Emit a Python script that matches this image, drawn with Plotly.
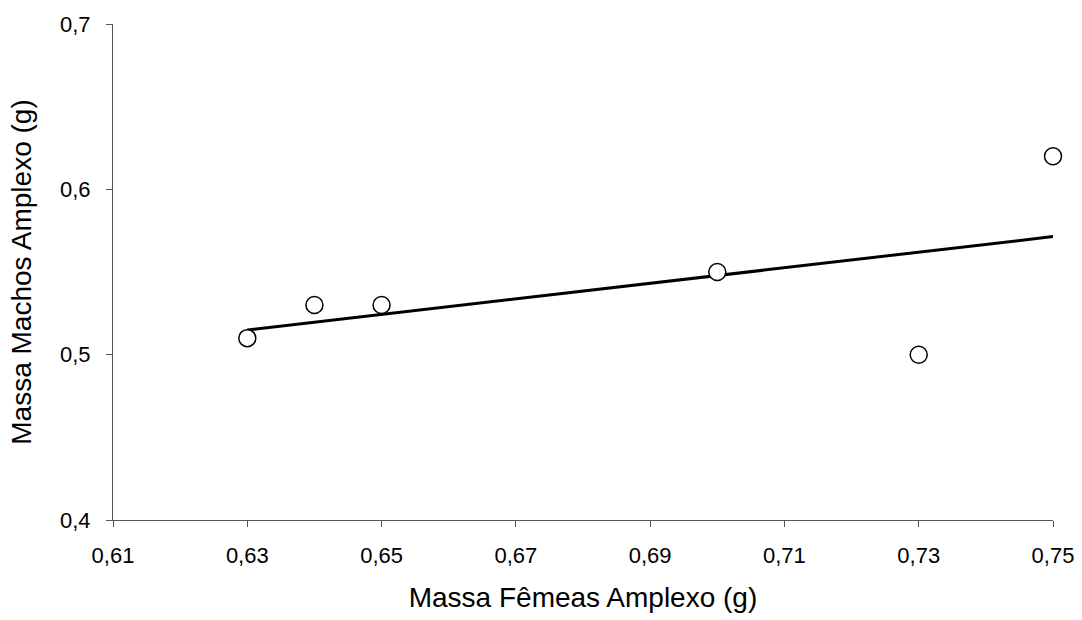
import numpy as np
import plotly.graph_objects as go

# Massa das fêmeas e dos machos em amplexo (g)
massa_femeas = [0.63, 0.64, 0.65, 0.70, 0.73, 0.75]
massa_machos = [0.51, 0.53, 0.53, 0.55, 0.50, 0.62]

x_ticks = [0.61, 0.63, 0.65, 0.67, 0.69, 0.71, 0.73, 0.75]
x_tick_labels = ["0,61", "0,63", "0,65", "0,67", "0,69", "0,71", "0,73", "0,75"]
y_ticks = [0.4, 0.5, 0.6, 0.7]
y_tick_labels = ["0,4", "0,5", "0,6", "0,7"]

# Linear trend line (least squares)
slope, intercept = np.polyfit(massa_femeas, massa_machos, 1)
x_fit = np.array([min(massa_femeas), max(massa_femeas)])
y_fit = slope * x_fit + intercept

fig = go.Figure()
fig.add_trace(go.Scatter(
    x=x_fit, y=y_fit, mode="lines",
    line=dict(color="black", width=3),
    hoverinfo="skip", showlegend=False,
))
fig.add_trace(go.Scatter(
    x=massa_femeas, y=massa_machos, mode="markers",
    marker=dict(symbol="circle", size=17, color="white",
                line=dict(color="black", width=1.5)),
    cliponaxis=False, showlegend=False,
))

font_family = "Liberation Sans, Arial, sans-serif"
fig.update_layout(
    width=1082, height=620,
    margin=dict(l=113, r=29, t=24, b=100),
    paper_bgcolor="white", plot_bgcolor="white",
    font=dict(family=font_family, color="black"),
    xaxis=dict(
        range=[0.61, 0.75], tickvals=x_ticks, ticktext=x_tick_labels,
        showgrid=False, zeroline=False, automargin=False,
        showline=True, linecolor="#555555", linewidth=1,
        ticks="outside", ticklen=6, tickcolor="#555555",
        tickfont=dict(size=22), ticklabelstandoff=10,
        title=dict(text="Massa Fêmeas Amplexo (g)", font=dict(size=28), standoff=19),
    ),
    yaxis=dict(
        range=[0.4, 0.7], tickvals=y_ticks, ticktext=y_tick_labels,
        showgrid=False, zeroline=False, automargin=False,
        showline=True, linecolor="#555555", linewidth=1,
        ticks="outside", ticklen=6, tickcolor="#555555",
        tickfont=dict(size=22), ticklabelstandoff=11,
        title=dict(text="Massa Machos Amplexo (g)", font=dict(size=28), standoff=20),
    ),
)

fig.write_html("out.html")
